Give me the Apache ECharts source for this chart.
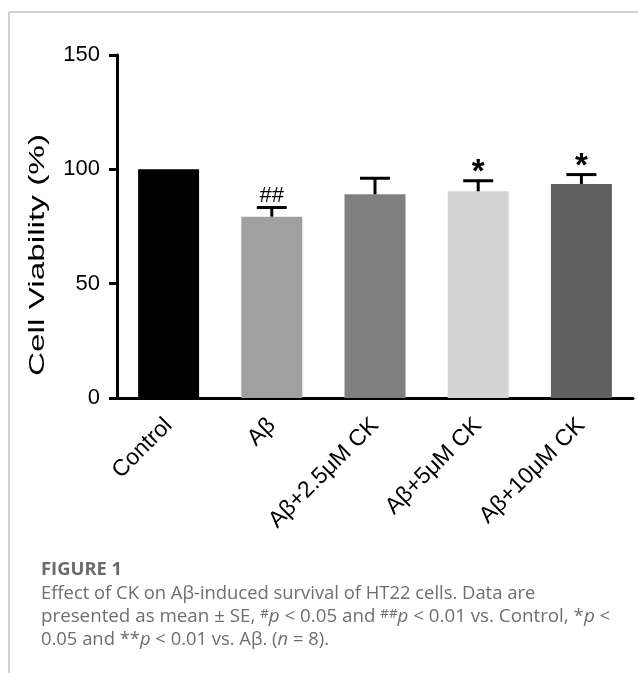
<!DOCTYPE html>
<html>
<head>
<meta charset="utf-8">
<script src="https://cdn.jsdelivr.net/npm/echarts@6/dist/echarts.min.js"></script>
<style>
html,body{margin:0;padding:0;background:#fff;}
#chart{width:638px;height:673px;}
</style>
</head>
<body>
<div id="chart"></div>
<script>
// ---- data ----
const categories = ['Control', 'Aβ', 'Aβ+2.5μM CK', 'Aβ+5μM CK', 'Aβ+10μM CK'];
const means = [100, 79.3, 89.1, 90.4, 93.6];
const errors = [0, 4.0, 7.0, 4.6, 4.1];
const marks = ['', '##', '', '*', '*'];
const yTicks = [0, 50, 100, 150];
const yTitle = 'Cell Viability (%)';

// ---- styles ----
const barColors = ['#000000', '#a0a0a0', '#808080', '#d3d3d3', '#606060'];
const AX = 'Liberation Sans, Arial, sans-serif';
const CAP = '"Open Sans", sans-serif';
const capColor = '#6e6e6e';
const capSize = 18.4;

const chart = echarts.init(document.getElementById('chart'), null, {renderer: 'canvas'});

const errData = categories.map((c, i) => [i, means[i], errors[i]]);

const option = {
  backgroundColor: '#ffffff',
  animation: false,
  grid: {left: 117, right: 5, top: 55, bottom: 275, containLabel: false},
  xAxis: {
    type: 'category',
    data: categories,
    axisLine: {lineStyle: {color: '#000', width: 3}},
    axisTick: {alignWithLabel: true, length: 8, lineStyle: {color: '#000', width: 3}},
    axisLabel: {rotate: 45, margin: 24, fontFamily: AX, fontSize: 23, color: '#000'}
  },
  yAxis: {
    type: 'value',
    min: yTicks[0], max: yTicks[yTicks.length - 1], interval: 50,
    axisLine: {show: true, lineStyle: {color: '#000', width: 3}},
    axisTick: {show: true, length: 8, lineStyle: {color: '#000', width: 3}},
    axisLabel: {margin: 17, fontFamily: AX, fontSize: 22, color: '#000'},
    splitLine: {show: false}
  },
  series: [
    {
      type: 'bar',
      barWidth: 61,
      data: means.map((v, i) => ({value: v, itemStyle: {color: barColors[i]}})),
      z: 2
    },
    {
      type: 'custom',
      z: 3,
      data: errData,
      renderItem: function (params, api) {
        const i = api.value(0);
        const v = api.value(1);
        const e = api.value(2);
        const m = marks[params.dataIndex];
        const children = [];
        const base = api.coord([i, v]);
        const top = api.coord([i, v + e]);
        if (e > 0) {
          children.push({type: 'line', shape: {x1: base[0], y1: base[1], x2: top[0], y2: top[1]}, style: {stroke: '#000', lineWidth: 3}});
          children.push({type: 'line', shape: {x1: top[0] - 15, y1: top[1], x2: top[0] + 15, y2: top[1]}, style: {stroke: '#000', lineWidth: 3}});
        }
        if (m) {
          const star = m.indexOf('*') >= 0;
          children.push({
            type: 'text',
            style: {
              text: m, x: top[0], y: star ? top[1] + 9 : top[1] - 1,
              align: 'center', verticalAlign: 'bottom',
              font: (star ? 'bold 33px ' : '22px ') + AX, fill: '#000'
            }
          });
        }
        return {type: 'group', children: children};
      }
    }
  ],
  graphic: [
    {type: 'line', shape: {x1: 9, y1: 12, x2: 9, y2: 673}, style: {stroke: '#d0d0d0', lineWidth: 2}},
    {type: 'line', shape: {x1: 9, y1: 12, x2: 638, y2: 12}, style: {stroke: '#d0d0d0', lineWidth: 2}},
    {type: 'text', x: 38, y: 255, rotation: Math.PI / 2, scaleX: 1.55, scaleY: 1,
      style: {text: yTitle, font: '21.5px ' + AX, fill: '#000', align: 'center', verticalAlign: 'middle'}},
    {type: 'text', left: 41, top: 561, style: {text: 'FIGURE 1', font: 'bold ' + capSize + 'px ' + CAP, fill: '#6b6b6b'}},
    {type: 'text', left: 41, top: 585, style: {
      text: 'Effect of CK on Aβ-induced survival of HT22 cells. Data are',
      font: capSize + 'px ' + CAP, fill: capColor}},
    {type: 'text', x: 41, y: 608, scaleX: 1.02, style: {
      text: '{n|presented as mean ± SE, }{s|#}{i|p}{n| < 0.05 and }{s|##}{i|p}{n| < 0.01 vs. Control, *}{i|p}{n| <}',
      rich: {
        n: {fontFamily: CAP, fontSize: capSize, fill: capColor},
        i: {fontFamily: CAP, fontSize: capSize, fontStyle: 'italic', fill: capColor},
        s: {fontFamily: CAP, fontSize: 13, fill: capColor, verticalAlign: 'top'}
      }}},
    {type: 'text', left: 41, top: 631, style: {
      text: '{n|0.05 and **}{i|p}{n| < 0.01 vs. Aβ. (}{i|n}{n| = 8).}',
      rich: {
        n: {fontFamily: CAP, fontSize: capSize, fill: capColor},
        i: {fontFamily: CAP, fontSize: capSize, fontStyle: 'italic', fill: capColor}
      }}}
  ]
};
chart.setOption(option);
</script>
</body>
</html>
